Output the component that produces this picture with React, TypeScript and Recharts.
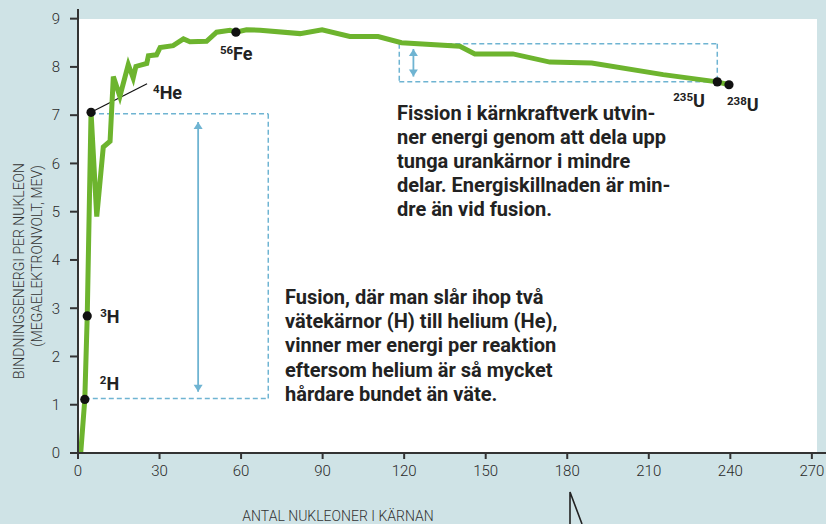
import React from 'react';
import {
  LineChart,
  Line,
  XAxis,
  YAxis,
  ReferenceLine,
  ReferenceDot,
} from 'recharts';

// mass number (nucleons) and binding energy per nucleon (MeV)
const nucleons = [
  1, 2.5, 3.4, 4.8, 6.9, 9.3, 11.8, 13, 15.4, 18.5, 20.3, 21.3, 25.3, 25.9, 28.9, 30.2, 35,
  38.8, 41.2, 47.3, 51, 55.9, 58.1, 62, 67, 81.7, 89.8, 100, 110.4, 119, 140.5, 146, 160,
  173.6, 189, 215.3, 235.2, 239.5,
];
const energy = [
  0, 1.11, 2.84, 7.06, 4.9, 6.34, 6.46, 7.8, 7.39, 8.05, 7.77, 8.01, 8.07, 8.23, 8.25, 8.4,
  8.44, 8.58, 8.52, 8.53, 8.72, 8.76, 8.72, 8.77, 8.76, 8.69, 8.77, 8.63, 8.63, 8.5, 8.43,
  8.27, 8.27, 8.1, 8.08, 7.84, 7.69, 7.63,
];

const xTicks = [0, 30, 60, 90, 120, 150, 180, 210, 240, 270];
const yTicks = [0, 1, 2, 3, 4, 5, 6, 7, 8, 9];

// labelled isotopes: superscript, element, position of label relative to dot
const isotopes = [
  { sup: '2', el: 'H', x: 2.5, y: 1.11, dx: 15, dy: -9 },
  { sup: '3', el: 'H', x: 3.4, y: 2.84, dx: 13, dy: 7 },
  { sup: '4', el: 'He', x: 4.8, y: 7.06, dx: 62, dy: -13 },
  { sup: '56', el: 'Fe', x: 58.1, y: 8.72, dx: -16, dy: 28 },
  { sup: '235', el: 'U', x: 235.2, y: 7.69, dx: -44, dy: 25 },
  { sup: '238', el: 'U', x: 239.5, y: 7.63, dx: -2, dy: 26 },
];

const fissionText = [
  'Fission i kärnkraftverk utvin-',
  'ner energi genom att dela upp',
  'tunga urankärnor i mindre',
  'delar. Energiskillnaden är min-',
  'dre än vid fusion.',
];
const fusionText = [
  'Fusion, där man slår ihop två',
  'vätekärnor (H) till helium (He),',
  'vinner mer energi per reaktion',
  'eftersom helium är så mycket',
  'hårdare bundet än väte.',
];

// dashed boxes marking the energy gaps
const fusionBox = [
  [{ x: 4.8, y: 7.03 }, { x: 70, y: 7.03 }],
  [{ x: 70, y: 7.03 }, { x: 70, y: 1.13 }],
  [{ x: 2.5, y: 1.13 }, { x: 70, y: 1.13 }],
];
const fissionBox = [
  [{ x: 118.2, y: 8.48 }, { x: 235.2, y: 8.48 }],
  [{ x: 118.2, y: 7.69 }, { x: 235.2, y: 7.69 }],
  [{ x: 118.2, y: 8.48 }, { x: 118.2, y: 7.69 }],
  [{ x: 235.2, y: 8.48 }, { x: 235.2, y: 7.69 }],
];

const data = nucleons.map((a, i) => ({ a, e: energy[i] }));

const GREEN = '#6db42e';
const BLUE = '#6fb4d2';
const BG = '#cfe3e6';
const TEXT_FONT = 'Roboto, "Noto Sans", sans-serif';

const DoubleArrow = (props: any) => {
  const { x1, y1, x2, y2 } = props;
  const h = 7;
  const w = 4.5;
  return (
    <g>
      <line x1={x1} y1={y1} x2={x2} y2={y2} stroke={BLUE} strokeWidth={1.8} />
      <path d={`M${x1},${y1} l${-w},${h} l${w * 2},0 Z`} fill={BLUE} />
      <path d={`M${x2},${y2} l${-w},${-h} l${w * 2},0 Z`} fill={BLUE} />
    </g>
  );
};

const isoShape = (iso: (typeof isotopes)[number]) => (p: any) => (
  <g>
    <circle cx={p.cx} cy={p.cy} r={4.6} fill="#111" />
    <text
      x={p.cx + iso.dx}
      y={p.cy + iso.dy}
      fontFamily={TEXT_FONT}
      fontWeight={700}
      fill="#222"
    >
      <tspan fontSize={11.5} dy={-6}>
        {iso.sup}
      </tspan>
      <tspan fontSize={18} dy={6}>
        {iso.el}
      </tspan>
    </text>
  </g>
);

const tickStyle = { fontSize: 15, fill: '#2a2a2a', fontFamily: TEXT_FONT, fontWeight: 300 };

const noteStyle: React.CSSProperties = {
  position: 'absolute',
  fontFamily: TEXT_FONT,
  fontWeight: 700,
  fontSize: 20,
  color: '#222',
  whiteSpace: 'pre',
};

const axisTitle: React.CSSProperties = {
  position: 'absolute',
  fontFamily: TEXT_FONT,
  fontWeight: 300,
  fontSize: 14,
  lineHeight: '14px',
  color: '#333',
  whiteSpace: 'nowrap',
};

export default function App() {
  return (
    <div style={{ position: 'relative', width: 826, height: 524, background: BG }}>
      <style>{`body{margin:0}`}</style>
      {/* white plot panel behind the transparent chart surface */}
      <div
        style={{
          position: 'absolute',
          left: 78,
          top: 18.6,
          width: 739,
          height: 434.4,
          background: '#ffffff',
        }}
      />
      <LineChart
        width={826}
        height={524}
        data={data}
        margin={{ top: 9, right: 0, bottom: 0, left: 0 }}
      >
        <XAxis
          type="number"
          dataKey="a"
          domain={[0, 275.2]}
          ticks={xTicks}
          height={71}
          tickSize={6}
          tickMargin={6}
          axisLine={{ stroke: '#333', strokeWidth: 2 }}
          tickLine={{ stroke: '#333', strokeWidth: 2 }}
          tick={tickStyle}
        />
        <YAxis
          type="number"
          domain={[0, 9.2]}
          ticks={yTicks}
          width={78}
          tickSize={8}
          tickMargin={10}
          axisLine={{ stroke: '#333', strokeWidth: 2 }}
          tickLine={{ stroke: '#333', strokeWidth: 2 }}
          tick={tickStyle}
        />
        {[...fusionBox, ...fissionBox].map((seg, i) => (
          <ReferenceLine
            key={i}
            segment={seg}
            stroke={BLUE}
            strokeWidth={1.5}
            strokeDasharray="5 3"
          />
        ))}
        <ReferenceLine
          segment={[{ x: 44.2, y: 6.86 }, { x: 44.2, y: 1.27 }]}
          shape={DoubleArrow}
        />
        <ReferenceLine
          segment={[{ x: 123.4, y: 8.37 }, { x: 123.4, y: 7.8 }]}
          shape={DoubleArrow}
        />
        {/* He leader */}
        <ReferenceLine
          segment={[{ x: 4.8, y: 7.06 }, { x: 25.4, y: 7.65 }]}
          stroke="#111"
          strokeWidth={1.2}
        />
        <Line
          type="linear"
          dataKey="e"
          stroke={GREEN}
          strokeWidth={5}
          dot={false}
          activeDot={false}
          isAnimationActive={false}
        />
        {isotopes.map((iso) => (
          <ReferenceDot
            key={iso.sup + iso.el}
            x={iso.x}
            y={iso.y}
            r={4.6}
            shape={isoShape(iso)}
          />
        ))}
      </LineChart>

      <div style={{ ...noteStyle, left: 397, top: 101, lineHeight: '24px' }}>
        {fissionText.map((t) => (
          <div key={t}>{t}</div>
        ))}
      </div>
      <div style={{ ...noteStyle, left: 285, top: 285, lineHeight: '24.2px' }}>
        {fusionText.map((t) => (
          <div key={t}>{t}</div>
        ))}
      </div>

      <div
        style={{
          ...axisTitle,
          left: 19,
          top: 271,
          transform: 'translate(-50%, -50%) rotate(-90deg)',
        }}
      >
        BINDNINGSENERGI PER NUKLEON
      </div>
      <div
        style={{
          ...axisTitle,
          left: 37,
          top: 256,
          transform: 'translate(-50%, -50%) rotate(-90deg)',
        }}
      >
        (MEGAELEKTRONVOLT, MEV)
      </div>
      <div style={{ ...axisTitle, left: 338, top: 509, transform: 'translateX(-50%)' }}>
        ANTAL NUKLEONER I KÄRNAN
      </div>

      <svg
        width={16}
        height={34}
        style={{ position: 'absolute', left: 568, top: 490, pointerEvents: 'none' }}
      >
        <polyline points="14,34 2,2 2,34" fill="none" stroke="#222" strokeWidth={1.6} />
      </svg>
    </div>
  );
}
